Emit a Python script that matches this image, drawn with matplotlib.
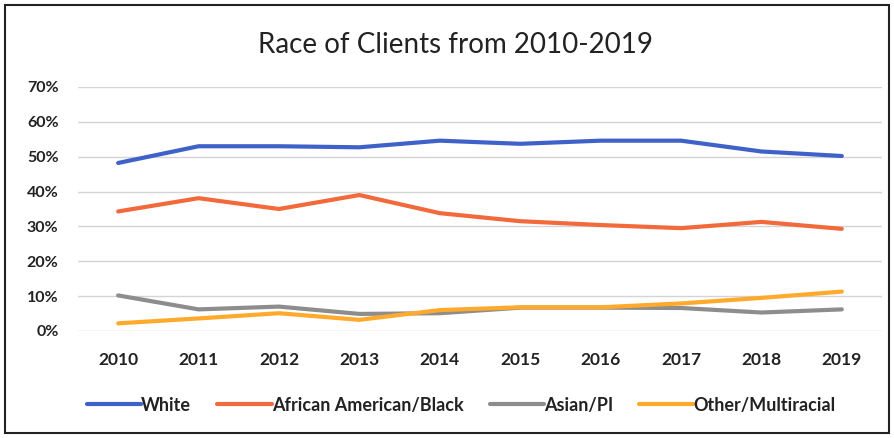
import matplotlib
matplotlib.use("Agg")
import matplotlib.pyplot as plt
from matplotlib.patches import Rectangle
from matplotlib.ticker import PercentFormatter

years = ["2010", "2011", "2012", "2013", "2014", "2015", "2016", "2017", "2018", "2019"]
white = [48.2, 53.0, 53.0, 52.7, 54.6, 53.7, 54.6, 54.6, 51.5, 50.2]
black = [34.3, 38.1, 35.0, 39.0, 33.8, 31.5, 30.4, 29.5, 31.3, 29.3]
asian = [10.2, 6.2, 7.0, 4.9, 5.1, 6.7, 6.7, 6.6, 5.3, 6.2]
other = [2.2, 3.6, 5.1, 3.2, 6.0, 6.8, 6.8, 7.9, 9.5, 11.3]

series = [
    ("White", white, "#3f62c8"),
    ("African American/Black", black, "#f26a3c"),
    ("Asian/PI", asian, "#8d8d8d"),
    ("Other/Multiracial", other, "#ffaa2c"),
]

plt.rcParams["font.family"] = ["Lato", "DejaVu Sans"]

fig = plt.figure(figsize=(8.94, 4.38), dpi=100)
ax = fig.add_axes([0.0872, 0.2443, 0.8994, 0.5571])

x = range(len(years))
for name, vals, col in series:
    ax.plot(x, vals, color=col, lw=3.0, label=name, solid_capstyle="round")

ax.set_xlim(-0.5, len(years) - 0.5)
ax.set_ylim(0, 70)
ax.set_yticks(range(0, 71, 10))
ax.yaxis.set_major_formatter(PercentFormatter(decimals=0))
ax.set_xticks(list(x))
ax.set_xticklabels(years)
ax.grid(axis="y", color="#d4d4d4", lw=1.0)
ax.set_axisbelow(True)
for s in ax.spines.values():
    s.set_visible(False)
ax.tick_params(length=0, labelsize=11.5, colors="#222222")
ax.tick_params(axis="x", labelsize=12.5, pad=15)
ax.tick_params(axis="y", pad=14)
for lab in ax.get_xticklabels() + ax.get_yticklabels():
    lab.set_fontweight("bold")

fig.text(0.51, 0.897, "Race of Clients from 2010-2019", ha="center", va="center",
         fontsize=20, color="#222222")

leg = fig.legend(loc="center", bbox_to_anchor=(0.516, 0.075), ncol=4, frameon=False,
                 fontsize=13, handlelength=3.0, handletextpad=0.0, columnspacing=1.45)
for t in leg.get_texts():
    t.set_fontweight("bold")
    t.set_color("#222222")

fig.patches.append(Rectangle((0.006, 0.012), 0.988, 0.976, transform=fig.transFigure,
                             fill=False, edgecolor="#222222", lw=1.5))

fig.savefig("out.png", dpi=100)
